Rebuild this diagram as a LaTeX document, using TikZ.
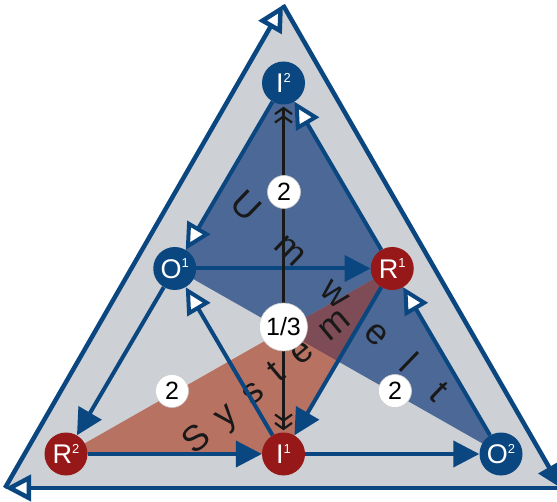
\documentclass[tikz,border=0pt]{standalone}
\usepackage{fontspec}
\setmainfont{Liberation Sans}
\usetikzlibrary{arrows.meta, calc, backgrounds}
\definecolor{uDarkBlue}{HTML}{0A467F}
\definecolor{uDarkRed}{HTML}{971818}
\definecolor{uBlue}{HTML}{4C6896}
\definecolor{uGray}{HTML}{CDD0D4}
\definecolor{uBrown}{HTML}{B87262}
\definecolor{uPlum}{HTML}{7E4C56}
\newcommand{\polelabel}[2]{#1\raisebox{0.4em}{\fontsize{13}{13}\selectfont #2}}

\begin{document}
\begin{tikzpicture}[x=1pt, y=1pt,
    pole/.style={circle, minimum size=43pt, inner sep=0pt, text=white,
                 font=\fontsize{27}{27}\selectfont},
    bluepole/.style={pole, fill=uDarkBlue},
    redpole/.style={pole, fill=uDarkRed},
    weight/.style={circle, fill=white, draw=gray!40, line width=0.6pt, inner sep=0pt,
                   minimum size=33pt, font=\fontsize{25}{25}\selectfont},
    letter/.style={inner sep=0pt, anchor=base, font=\fontsize{36}{36}\selectfont,
                   text=black!90},
    flow/.style={draw=uDarkBlue, line width=4pt, -{Triangle[length=26pt, width=26pt]}},
    backflow/.style={draw=uDarkBlue, line width=4pt,
                     -{Triangle[open, fill=white, length=26pt, width=26pt]}},
    rim/.style={draw=uDarkBlue, line width=4.5pt}]
  \useasboundingbox (0,0) rectangle (557,501);

  % outer triangle
  \coordinate (top) at (283,496);
  \coordinate (bl)  at (5,13);
  \coordinate (br)  at (561,13);
  \draw[rim, -{Triangle[open, fill=white, length=26pt, width=26pt]}] (bl) -- (top);
  \draw[rim, -{Triangle[length=24pt, width=24pt]}] (top) -- (br);
  \draw[rim, -{Triangle[open, fill=white, length=26pt, width=26pt]}] (br) -- (bl);

  % poles
  \node[bluepole] (I2) at (283.5,418)   {\polelabel{I}{2}};
  \node[bluepole] (O1) at (174.75,232.5) {\polelabel{O}{1}};
  \node[redpole]  (R1) at (392.25,232.5) {\polelabel{R}{1}};
  \node[redpole]  (R2) at (66,47)       {\polelabel{R}{2}};
  \node[redpole]  (I1) at (283.5,47)    {\polelabel{I}{1}};
  \node[bluepole] (O2) at (501,47)      {\polelabel{O}{2}};

  \begin{scope}[on background layer]
    \fill[uGray] (bl) -- (top) -- (br) -- cycle;
    \fill[uBlue] (I2.center) -- (O1.center) -- (O2.center) -- cycle;
    \fill[uBrown] (R2.center) -- (I1.center) -- (R1.center) -- cycle;
    \fill[uPlum] (R1.center)
      -- (intersection of R2.center--R1.center and O1.center--O2.center)
      -- (intersection of I1.center--R1.center and O1.center--O2.center) -- cycle;
  \end{scope}

  % words, letter by letter along their baselines
  \coordinate (umwBase) at (238,286.7);
  \coordinate (sysBase) at (203.3,53.1);
  \foreach \ch/\d [count=\i] in {U/0, m/63, w/125, e/183, l/226, t/268}
    \node[letter, rotate=-44] (umw\i) at ($(umwBase)+(-44:\d)$) {\ch};
  \foreach \ch/\d [count=\i] in {S/0, y/38.3, s/73.6, t/104.9, e/137.2, m/179.5}
    \node[letter, rotate=40] (sys\i) at ($(sysBase)+(40:\d)$) {\ch};

  % flows
  \draw[backflow] (I2) -- (O1);
  \draw[flow] (O1) -- (R2);
  \draw[flow] (R2) -- (I1);
  \draw[flow] (I1) -- (O2);
  \draw[backflow] (O2) -- (R1);
  \draw[backflow] (R1) -- (I2);
  \draw[flow] (O1) -- (R1);
  \draw[flow] (R1) -- (I1);
  \draw[backflow] (I1) -- (O1);
  \draw[black!90, line width=2.2pt, shorten <=2pt, shorten >=2pt,
        {Straight Barb[length=6pt, width=17pt] Straight Barb[length=6pt, width=17pt]}-%
        {Straight Barb[length=6pt, width=17pt] Straight Barb[length=6pt, width=17pt]}]
    (I2) -- (I1);

  % weights
  \node[weight] (wTop) at (284,309) {2};
  \node[weight, minimum size=48pt] (wMid) at (283.5,174) {1/3};
  \node[weight] (wLeft) at (172,110) {2};
  \node[weight] (wRight) at (395,110) {2};
\end{tikzpicture}
\end{document}
